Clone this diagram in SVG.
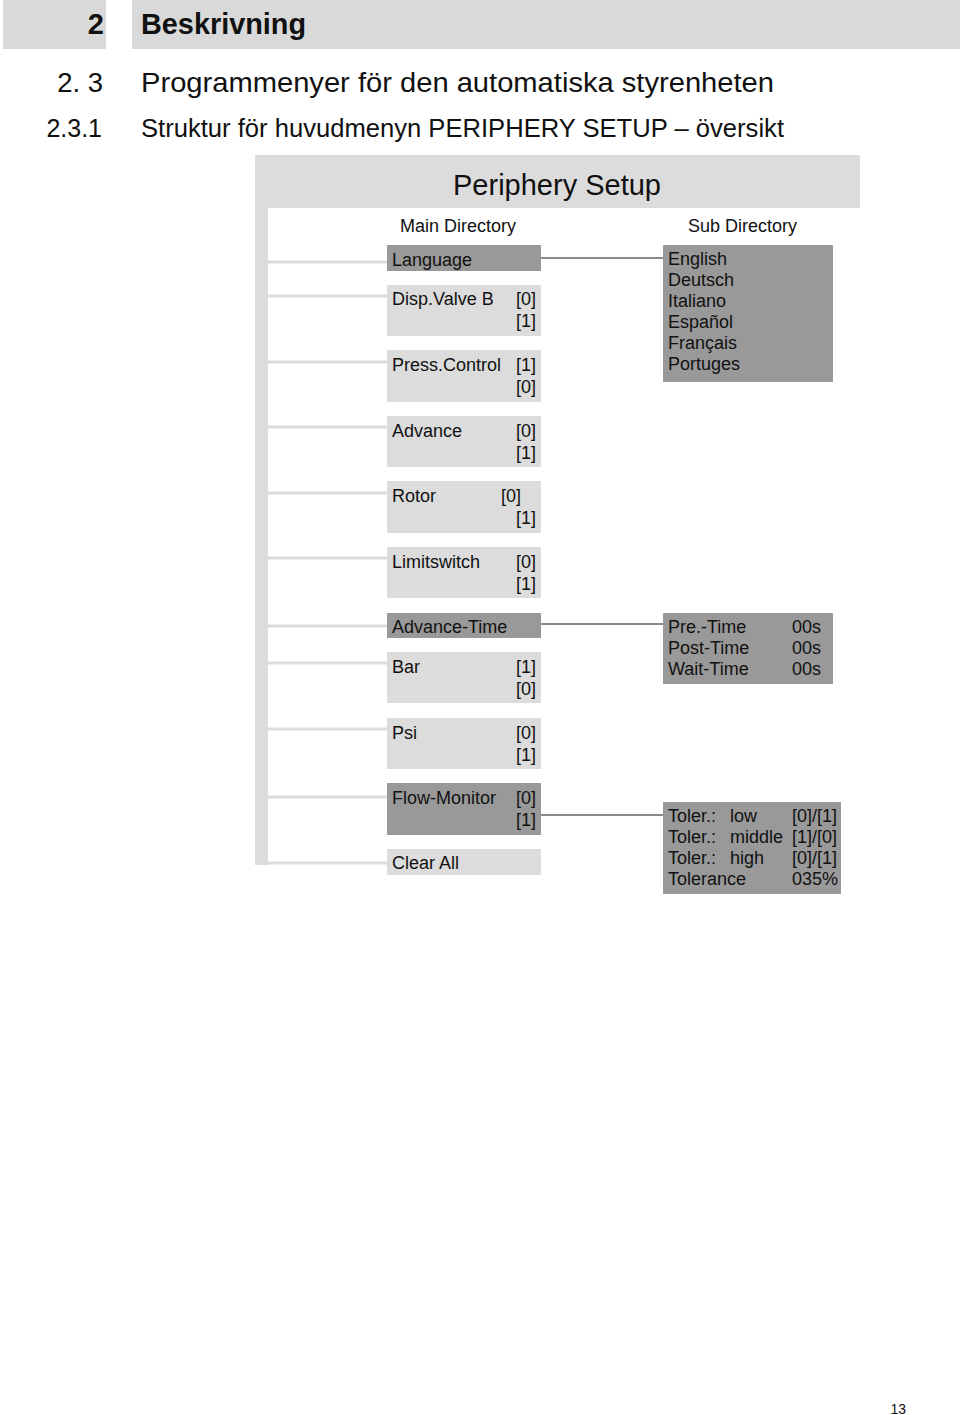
<svg xmlns="http://www.w3.org/2000/svg" width="960" height="1415" viewBox="0 0 960 1415">
<style>
text{font-family:"Liberation Sans",Arial,sans-serif;fill:#111}
.h{font-weight:bold;font-size:29px}
.t1{font-size:27.5px}
.t2{font-size:25px}
.m{font-size:18px}
.e{text-anchor:end}
.lb{fill:#dcdcdc}
.db{fill:#999999}
.br{stroke:#dcdcdc;stroke-width:3;fill:none}
.cn{stroke:#8a8a8a;stroke-width:2;fill:none}
</style>
<rect width="960" height="1415" fill="#fff"/>
<g id="page-header">
<rect x="3" y="0" width="103" height="49" fill="#d9d9d9"/>
<rect x="132" y="0" width="828" height="49" fill="#d9d9d9"/>
<text class="h e" x="104" y="34">2</text>
<text class="h" x="141" y="34" textLength="165" lengthAdjust="spacingAndGlyphs">Beskrivning</text>
<text class="t1 e" x="103" y="92">2. 3</text>
<text class="t1" x="141" y="92" textLength="633" lengthAdjust="spacingAndGlyphs">Programmenyer för den automatiska styrenheten</text>
<text class="t2 e" x="102" y="137">2.3.1</text>
<text class="t2" x="141" y="137" textLength="643" lengthAdjust="spacingAndGlyphs">Struktur för huvudmenyn PERIPHERY SETUP – översikt</text>
</g>
<g id="panel">
<rect x="255" y="155" width="605" height="53" fill="#dcdcdc"/>
<rect x="255" y="208" width="13" height="657" fill="#dcdcdc"/>
<text x="557" y="195" text-anchor="middle" style="font-size:29px">Periphery Setup</text>
<text class="m" x="400" y="232">Main Directory</text>
<text class="m" x="688" y="232">Sub Directory</text>
</g>
<g id="connectors">
<path class="br" d="M268 262H388M268 296H388M268 362H388M268 427H388M268 493H388M268 558H388M268 626H388M268 663H388M268 729H388M268 797H388M268 863H388"/>
<path class="cn" d="M541 258H663M541 624H663M541 815H663"/>
</g>
<g id="n-language"><rect class="db" x="387" y="245" width="154" height="26"/><text class="m" x="392" y="266">Language</text></g>
<g id="n-dispvalve"><rect class="lb" x="387" y="285" width="154" height="51"/><text class="m" x="392" y="305">Disp.Valve B</text><text class="m e" x="536" y="305">[0]</text><text class="m e" x="536" y="327">[1]</text></g>
<g id="n-presscontrol"><rect class="lb" x="387" y="350" width="154" height="52"/><text class="m" x="392" y="371">Press.Control</text><text class="m e" x="536" y="371">[1]</text><text class="m e" x="536" y="393">[0]</text></g>
<g id="n-advance"><rect class="lb" x="387" y="416" width="154" height="51"/><text class="m" x="392" y="437">Advance</text><text class="m e" x="536" y="437">[0]</text><text class="m e" x="536" y="459">[1]</text></g>
<g id="n-rotor"><rect class="lb" x="387" y="481" width="154" height="52"/><text class="m" x="392" y="502">Rotor</text><text class="m e" x="521" y="502">[0]</text><text class="m e" x="536" y="524">[1]</text></g>
<g id="n-limitswitch"><rect class="lb" x="387" y="547" width="154" height="51"/><text class="m" x="392" y="568">Limitswitch</text><text class="m e" x="536" y="568">[0]</text><text class="m e" x="536" y="590">[1]</text></g>
<g id="n-advancetime"><rect class="db" x="387" y="613" width="154" height="25"/><text class="m" x="392" y="633">Advance-Time</text></g>
<g id="n-bar"><rect class="lb" x="387" y="652" width="154" height="51"/><text class="m" x="392" y="673">Bar</text><text class="m e" x="536" y="673">[1]</text><text class="m e" x="536" y="695">[0]</text></g>
<g id="n-psi"><rect class="lb" x="387" y="718" width="154" height="51"/><text class="m" x="392" y="739">Psi</text><text class="m e" x="536" y="739">[0]</text><text class="m e" x="536" y="761">[1]</text></g>
<g id="n-flowmonitor"><rect class="db" x="387" y="783" width="154" height="52"/><text class="m" x="392" y="804">Flow-Monitor</text><text class="m e" x="536" y="804">[0]</text><text class="m e" x="536" y="826">[1]</text></g>
<g id="n-clearall"><rect class="lb" x="387" y="849" width="154" height="26"/><text class="m" x="392" y="869">Clear All</text></g>
<g id="s-languages"><rect class="db" x="663" y="245" width="170" height="137"/>
<text class="m" x="668" y="265">English</text><text class="m" x="668" y="286">Deutsch</text><text class="m" x="668" y="307">Italiano</text><text class="m" x="668" y="328">Español</text><text class="m" x="668" y="349">Français</text><text class="m" x="668" y="370">Portuges</text></g>
<g id="s-times"><rect class="db" x="663" y="613" width="170" height="71"/>
<text class="m" x="668" y="633">Pre.-Time</text><text class="m" x="792" y="633">00s</text>
<text class="m" x="668" y="654">Post-Time</text><text class="m" x="792" y="654">00s</text>
<text class="m" x="668" y="675">Wait-Time</text><text class="m" x="792" y="675">00s</text></g>
<g id="s-tolerance"><rect class="db" x="663" y="802" width="178" height="92"/>
<text class="m" x="668" y="822">Toler.:</text><text class="m" x="730" y="822">low</text><text class="m" x="792" y="822">[0]/[1]</text>
<text class="m" x="668" y="843">Toler.:</text><text class="m" x="730" y="843">middle</text><text class="m" x="792" y="843">[1]/[0]</text>
<text class="m" x="668" y="864">Toler.:</text><text class="m" x="730" y="864">high</text><text class="m" x="792" y="864">[0]/[1]</text>
<text class="m" x="668" y="885">Tolerance</text><text class="m" x="792" y="885">035%</text></g>
<text x="906" y="1414" text-anchor="end" style="font-size:14px">13</text>
</svg>
